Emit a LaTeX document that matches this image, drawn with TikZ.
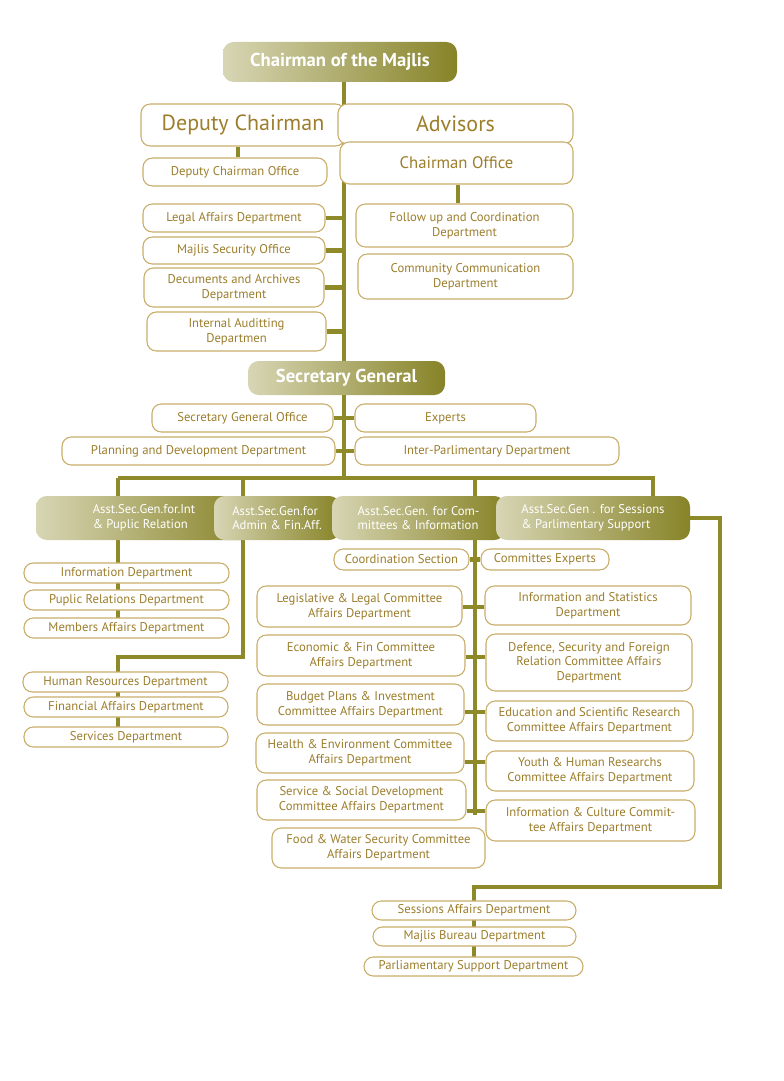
\documentclass[tikz,border=0pt]{standalone}
\usepackage{fontspec}
\setmainfont{PT Sans}
\usetikzlibrary{calc}
\definecolor{golden}{HTML}{9C7E2C}
\definecolor{olive}{HTML}{8E8A2A}
\definecolor{rim}{HTML}{C9AE6A}
\tikzset{
  dept/.style={draw=rim, line width=0.8pt, rounded corners=7pt, fill=white,
    text=golden, align=center, inner sep=0pt, font=\fontsize{9.5}{11}\selectfont},
  big/.style={dept, font=\fontsize{16.5}{18}\selectfont},
  mid/.style={dept, font=\fontsize{12.5}{14}\selectfont},
  head/.style={rounded corners=8pt, left color=olive!35, right color=olive!95!black,
    text=white, align=center, inner sep=0pt, font=\fontsize{14}{16}\selectfont\bfseries},
  asst/.style={head, font=\fontsize{9.5}{11}\selectfont, align=left},
  link/.style={draw=olive, line width=3.6pt}
}
\newcommand\orgbox[7]{%
  \pgfmathsetmacro\bw{(#4-#2)*0.75}\pgfmathsetmacro\bh{(#5-#3)*0.75}%
  \node[#6, minimum width=\bw pt, minimum height=\bh pt] (#1) at ({(#2+#4)/2},{(#3+#5)/2}) {#7};}

\begin{document}
\begin{tikzpicture}[x=0.75pt, y=-0.75pt]
  \useasboundingbox (0,0) rectangle (784,1081);
  \coordinate (ta) at (344,0);
  \coordinate (tc) at (475,0);

  % lines first
  \orgbox{chair}{223}{42}{457}{82}{head}{Chairman of the Majlis}
  \orgbox{sg}{248}{361}{445}{395}{head}{Secretary General}
  \path[link] (chair.south -| ta) -- (sg.north -| ta);
  \coordinate (bar) at (0,478);
  \path[link] (sg.south -| ta) -- (bar -| ta);
  \path[link] (118,478) -- (655,478);

  % top block
  \orgbox{dep}{141}{104}{345}{146}{big}{Deputy Chairman}
  \orgbox{adv}{338}{104}{573}{144}{big}{Advisors}
  \orgbox{cho}{340}{142}{573}{184}{mid}{Chairman Office}
  \orgbox{depo}{143}{158}{327}{186}{dept}{Deputy Chairman Office}
  \orgbox{legal}{143}{204}{325}{232}{dept}{Legal Affairs Department}
  \orgbox{sec}{143}{237}{325}{264}{dept}{Majlis Security Office}
  \orgbox{docs}{144}{268}{324}{307}{dept}{Decuments and Archives\\Department}
  \orgbox{audit}{147}{312}{326}{351}{dept}{Internal Auditting\\Departmen}
  \orgbox{follow}{356}{204}{573}{247}{dept}{Follow up and Coordination\\Department}
  \orgbox{comm}{358}{254}{573}{299}{dept}{Community Communication\\Department}
  \path[link] (dep.south -| 238,0) -- (depo.north -| 238,0);
  \path[link] (cho.south -| 458,0) -- (follow.north -| 458,0);
  \foreach \n in {legal,sec,docs,audit}
    \path[link] (\n.east) -- (\n.east -| ta);

  % secretary general block
  \orgbox{sgo}{152}{404}{333}{432}{dept}{Secretary General Office}
  \orgbox{exp}{355}{404}{536}{432}{dept}{Experts}
  \orgbox{plan}{62}{437}{335}{465}{dept}{Planning and Development Department}
  \orgbox{ipd}{355}{437}{619}{465}{dept}{Inter-Parlimentary Department}
  \foreach \n in {sgo,plan}
    \path[link] (\n.east) -- (\n.east -| ta);
  \foreach \n in {exp,ipd}
    \path[link] (\n.west) -- (\n.west -| ta);

  % assistant secretaries
  \coordinate (ca) at (118,0);
  \coordinate (cb) at (243,0);
  \coordinate (sx) at (720,0);
  \path[link] (ca |- bar) -- (ca |- 0,500);
  \path[link] (cb |- bar) -- (cb |- 0,500);
  \path[link] (tc |- bar) -- (tc |- 0,500);
  \path[link] (653,478) -- (653,500);
  \path[link] (cb |- 0,540) -- (cb |- 0,657) -- (ca |- 0,657) -- (ca |- 0,740);
  \path[link] (ca |- 0,540) -- (ca |- 0,630);
  \path[link] (tc |- 0,540) -- (tc |- 0,815);
  \path[link] (690,518) -- (sx |- 0,518) -- (sx |- 0,887) -- (474,887) -- (474,968);
  \orgbox{asa}{36}{496}{252}{540}{asst}{Asst.Sec.Gen.for.Int\\\& Puplic Relation}
  \orgbox{asb}{214}{496}{340}{540}{asst}{Asst.Sec.Gen.for\\Admin \& Fin.Aff.}
  \orgbox{asc}{332}{496}{505}{540}{asst}{Asst.Sec.Gen. for Com-\\mittees \& Information}
  \orgbox{asd}{496}{496}{690}{540}{asst}{Asst.Sec.Gen . for Sessions\\\& Parlimentary Support}

  % left branch
  \orgbox{info}{24}{563}{229}{583}{dept}{Information Department}
  \orgbox{pr}{24}{590}{229}{610}{dept}{Puplic Relations Department}
  \orgbox{mem}{24}{618}{229}{638}{dept}{Members Affairs Department}
  \orgbox{hr}{23}{672}{228}{692}{dept}{Human Resources Department}
  \orgbox{fin}{24}{697}{228}{717}{dept}{Financial Affairs Department}
  \orgbox{serv}{24}{727}{228}{747}{dept}{Services Department}

  % committees branch
  \orgbox{coord}{334}{549}{469}{570}{dept}{Coordination Section}
  \orgbox{cexp}{481}{549}{609}{570}{dept}{Committes Experts}
  \path[link] (coord.east) -- (cexp.west);
  \orgbox{leg}{257}{586}{462}{627}{dept}{Legislative \& Legal Committee\\Affairs Department}
  \orgbox{eco}{257}{635}{465}{676}{dept}{Economic \& Fin Committee\\Affairs Department}
  \orgbox{bud}{257}{684}{464}{725}{dept}{Budget Plans \& Investment\\Committee Affairs Department}
  \orgbox{hea}{256}{733}{464}{773}{dept}{Health \& Environment Committee\\Affairs Department}
  \orgbox{soc}{257}{780}{466}{820}{dept}{Service \& Social Development\\Committee Affairs Department}
  \orgbox{food}{272}{828}{485}{868}{dept}{Food \& Water Security Committee\\Affairs Department}
  \orgbox{stat}{485}{586}{691}{625}{dept}{Information and Statistics\\Department}
  \orgbox{def}{486}{634}{692}{691}{dept}{Defence, Security and Foreign\\Relation Committee Affairs\\Department}
  \orgbox{edu}{486}{701}{693}{741}{dept}{Education and Scientific Research\\Committee Affairs Department}
  \orgbox{you}{486}{751}{694}{791}{dept}{Youth \& Human Researchs\\Committee Affairs Department}
  \orgbox{cul}{486}{800}{695}{841}{dept}{Information \& Culture Commit-\\tee Affairs Department}
  \path[link] (leg.east |- 0,607) -- (stat.west |- 0,607);
  \path[link] (eco.east |- 0,657) -- (def.west |- 0,657);
  \path[link] (bud.east |- 0,712) -- (edu.west |- 0,712);
  \path[link] (hea.east |- 0,762) -- (you.west |- 0,762);
  \path[link] (soc.east |- 0,811) -- (cul.west |- 0,811);

  % sessions branch
  \orgbox{sess}{372}{901}{576}{920}{dept}{Sessions Affairs Department}
  \orgbox{bur}{373}{927}{576}{946}{dept}{Majlis Bureau Department}
  \orgbox{par}{364}{957}{583}{976}{dept}{Parliamentary Support Department}
\end{tikzpicture}
\end{document}
